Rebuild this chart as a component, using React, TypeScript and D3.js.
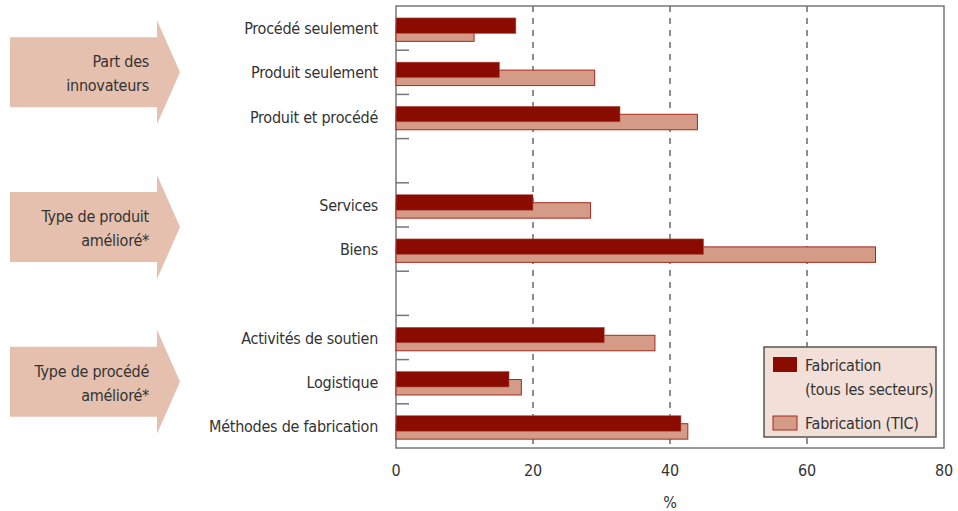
import React from "react";
import * as d3 from "d3";

const categories = [
  "Procédé seulement",
  "Produit seulement",
  "Produit et procédé",
  "Services",
  "Biens",
  "Activités de soutien",
  "Logistique",
  "Méthodes de fabrication",
];
const groupOf = [0, 0, 0, 1, 1, 2, 2, 2];
const groupLabels = [
  ["Part des", "innovateurs"],
  ["Type de produit", "amélioré*"],
  ["Type de procédé", "amélioré*"],
];
const allSectors = [17.5, 15.1, 32.7, 20.0, 44.9, 30.4, 16.5, 41.6];
const ictSectors = [11.4, 29.0, 44.0, 28.4, 70.0, 37.8, 18.3, 42.6];
const xTicks = [0, 20, 40, 60, 80];
const legendLabels = [["Fabrication", "(tous les secteurs)"], ["Fabrication (TIC)"]];

const W = 958;
const H = 511;
const FONT = "'Liberation Sans Narrow', 'DejaVu Sans Condensed', 'Noto Sans', sans-serif";
const FS = 16;
const LS = -0.25;
const TEXT = "#333";
const DARK = "#8a0b00";
const LIGHT = "#d49b87";
const LIGHT_STROKE = "#a8291f";
const ARROW = "#e5c0ae";

export default function App() {
  const slots: string[] = [];
  categories.forEach((c, i) => {
    if (i > 0 && groupOf[i] !== groupOf[i - 1]) slots.push("gap" + i);
    slots.push(c);
  });
  const top = 6;
  const bottom = 448;
  const y = d3.scaleBand<string>().domain(slots).range([top, bottom]).padding(0);
  const x = d3.scaleLinear().domain([0, 80]).range([396, 944]);
  const bw = y.bandwidth();
  const darkOff = bw * 0.27;
  const lightOff = bw * 0.45;
  const barH = bw * 0.35;

  const tickYs = slots.slice(0, -1).map((s) => (y(s) as number) + bw);

  const groupCenters = groupLabels.map((_, g) => {
    const idx = categories.filter((_, i) => groupOf[i] === g);
    const t = y(idx[0]) as number;
    const b = (y(idx[idx.length - 1]) as number) + bw;
    return (t + b) / 2;
  });

  const lx = 764, ly = 347, lw = 172, lh = 90;

  return (
    <svg width={W} height={H} style={{ position: "absolute", left: 0, top: 0 }} fontFamily={FONT} fontSize={FS} letterSpacing={LS}>
      <rect width={W} height={H} fill="#fff" />
      {groupCenters.map((cy, g) => (
        <g key={g}>
          <path
            d={`M10,${cy - 35} L157,${cy - 35} L157,${cy - 52} L180,${cy} L157,${cy + 52} L157,${cy + 35} L10,${cy + 35} Z`}
            fill={ARROW}
          />
          {groupLabels[g].map((t, k) => (
            <text key={k} x={149} y={cy - 11 + k * 24 + 6} textAnchor="end" fill={TEXT}>
              {t}
            </text>
          ))}
        </g>
      ))}
      {xTicks.slice(1, -1).map((t) => (
        <line key={t} x1={x(t)} x2={x(t)} y1={top} y2={bottom} stroke="#444" strokeWidth={1.2} strokeDasharray="6,6" />
      ))}
      <rect x={x(0)} y={top} width={x(80) - x(0)} height={bottom - top} fill="none" stroke="#777" strokeWidth={1.5} />
      {tickYs.map((ty, i) => (
        <line key={i} x1={x(0)} x2={x(0) + 13} y1={ty} y2={ty} stroke="#777" strokeWidth={1.5} />
      ))}
      {categories.map((c, i) => {
        const y0 = y(c) as number;
        return (
          <g key={c}>
            <rect x={x(0)} y={y0 + lightOff} width={x(ictSectors[i]) - x(0)} height={barH} fill={LIGHT} stroke={LIGHT_STROKE} strokeWidth={1} />
            <rect x={x(0)} y={y0 + darkOff} width={x(allSectors[i]) - x(0)} height={barH} fill={DARK} stroke="#b0574c" strokeWidth={0.6} />
            <text x={378} y={y0 + bw / 2 + 6} textAnchor="end" fill={TEXT}>
              {c}
            </text>
          </g>
        );
      })}
      {xTicks.map((t) => (
        <text key={t} x={x(t)} y={476} textAnchor="middle" fill={TEXT}>
          {t}
        </text>
      ))}
      <text x={x(40)} y={508} textAnchor="middle" fill={TEXT}>
        %
      </text>
      <rect x={lx} y={ly} width={lw} height={lh} fill="#f2e0d8" stroke="#555" strokeWidth={1.5} />
      <rect x={lx + 9} y={ly + 10} width={24} height={15} fill={DARK} />
      <text x={lx + 41} y={ly + 24} fill={TEXT}>{legendLabels[0][0]}</text>
      <text x={lx + 41} y={ly + 48} fill={TEXT}>{legendLabels[0][1]}</text>
      <rect x={lx + 9} y={ly + 69} width={24} height={14} fill={LIGHT} stroke={LIGHT_STROKE} strokeWidth={1} />
      <text x={lx + 41} y={ly + 82} fill={TEXT}>{legendLabels[1][0]}</text>
    </svg>
  );
}
